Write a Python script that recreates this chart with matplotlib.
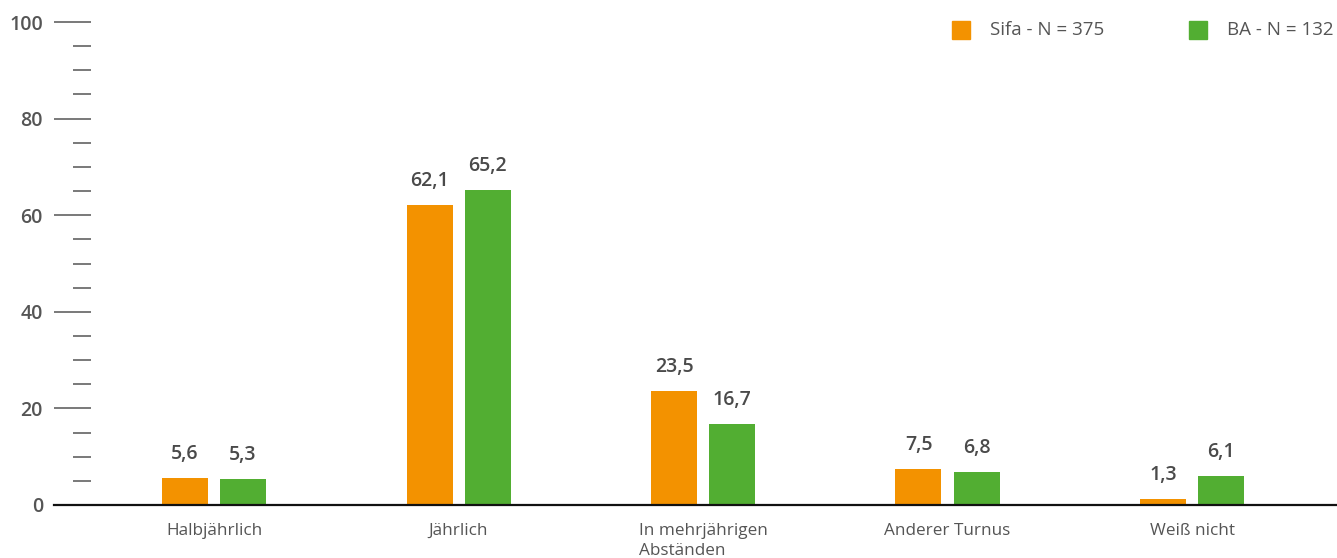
import matplotlib
matplotlib.use("Agg")
import matplotlib.pyplot as plt
import numpy as np
from matplotlib.patches import Rectangle
from matplotlib.ticker import MultipleLocator

categories = ["Halbjährlich", "Jährlich", "In mehrjährigen\nAbständen", "Anderer Turnus", "Weiß nicht"]
sifa = [5.6, 62.1, 23.5, 7.5, 1.3]
ba = [5.3, 65.2, 16.7, 6.8, 6.1]
series_names = ["Sifa - N = 375", "BA - N = 132"]
colors = ["#F39200", "#52AE32"]

plt.rcParams['font.family'] = ['Open Sans', 'DejaVu Sans']
W, H = 1337, 558
PT = 72 / 100  # points per pixel
fig = plt.figure(figsize=(W / 100, H / 100), dpi=100)
ax = fig.add_axes([91 / W, (H - 505) / H, (W - 91) / W, (505 - 22) / H])

x = np.arange(len(categories))
bw = 46 / 244.5
off = 29 / 244.5
for vals, c, d in [(sifa, colors[0], -off), (ba, colors[1], off)]:
    bars = ax.bar(x + d, vals, width=bw, color=c, zorder=2)
    for b, v in zip(bars, vals):
        ax.text(b.get_x() + b.get_width() / 2, v + 2.9, f"{v:.1f}".replace(".", ","),
                ha="center", va="bottom", fontsize=14, fontweight="semibold", color="#4a4a4a")

ax.set_xlim((91 - 214) / 244.5, (W - 214) / 244.5)
ax.set_ylim(0, 100)
for s in ["top", "right", "left", "bottom"]:
    ax.spines[s].set_visible(False)

ax.yaxis.set_major_locator(MultipleLocator(20))
ax.yaxis.set_minor_locator(MultipleLocator(5))
ax.tick_params(axis="y", which="major", length=37 * PT, width=1.1, color="#555555",
               labelsize=14, labelcolor="#555555", pad=11 * PT)
ax.tick_params(axis="y", which="minor", length=18 * PT, width=1.1, color="#555555")
for lab in ax.get_yticklabels():
    lab.set_fontweight("semibold")

ax.set_xticks(x)
ax.set_xticklabels(categories, multialignment="left", linespacing=1.3)
ax.tick_params(axis="x", length=0, labelsize=12.3, labelcolor="#555555", pad=18 * PT)

# baseline extending left to the major tick start
ax.plot([-37 / (W - 91), 1], [0, 0], transform=ax.transAxes, color="#111111",
        lw=1.6, clip_on=False, zorder=3)

# legend
for (name, c, px) in zip(series_names, colors, [952, 1189]):
    fig.patches.append(Rectangle((px / W, (H - 39) / H), 18 / W, 18 / H,
                                 transform=fig.transFigure, color=c))
    fig.text((px + 38) / W, (H - 30) / H, name, ha="left", va="center",
             fontsize=13.5, color="#555555")

fig.savefig("out.png", dpi=100)
